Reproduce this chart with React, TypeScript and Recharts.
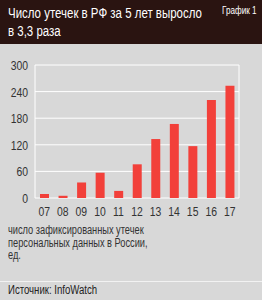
import React from "react";
import { BarChart, Bar, XAxis, YAxis, CartesianGrid } from "recharts";

const years = ["07", "08", "09", "10", "11", "12", "13", "14", "15", "16", "17"];
const leaks = [9, 5, 35, 57, 16, 76, 133, 167, 117, 221, 253];
const yTicks = [0, 60, 120, 180, 240, 300];

const titleLines = ["Число утечек в РФ за 5 лет выросло", "в 3,3 раза"];
const captionLines = ["число зафиксированных утечек", "персональных данных в России,", "ед."];
const sourceText = "Источник: InfoWatch";
const chartLabel = "График 1";

const data = years.map((y, i) => ({ year: y, value: leaks[i] }));

const FONT = "'Liberation Sans', Arial, sans-serif";
const SX = 0.8;

function Narrow({ lines, left, top, size, lineHeight, color, scale = SX }: any) {
  return (
    <div
      style={{
        position: "absolute",
        left,
        top,
        color,
        fontSize: size,
        lineHeight: lineHeight + "px",
        whiteSpace: "nowrap",
        transform: `scaleX(${scale})`,
        transformOrigin: "left top",
      }}
    >
      {lines.map((l: string, i: number) => (
        <div key={i}>{l}</div>
      ))}
    </div>
  );
}

function YTick(props: any) {
  const { x, y, payload } = props;
  return (
    <text
      transform={`translate(${x},${y}) scale(${SX},1)`}
      textAnchor="end"
      dominantBaseline="central"
      fill="#333333"
      fontSize={13}
      fontFamily={FONT}
    >
      {payload.value}
    </text>
  );
}

function XTick(props: any) {
  const { x, y, payload } = props;
  return (
    <text
      transform={`translate(${x},${y}) scale(${SX},1)`}
      textAnchor="middle"
      dominantBaseline="hanging"
      fill="#333333"
      fontSize={13}
      fontFamily={FONT}
    >
      {payload.value}
    </text>
  );
}

export default function App() {
  return (
    <div
      style={{
        position: "fixed",
        top: 0,
        left: 0,
        width: 262,
        height: 300,
        background: "#d8d8d8",
        fontFamily: FONT,
        overflow: "hidden",
      }}
    >
      <div
        style={{
          position: "absolute",
          top: 0,
          left: 0,
          width: 262,
          height: 44,
          background: "#2a1411",
        }}
      />
      <Narrow lines={titleLines} left={8} top={4} size={15.5} lineHeight={18} color="#ffffff" scale={0.74} />
      <Narrow lines={[chartLabel]} left={222} top={3} size={11} lineHeight={14} color="#ffffff" scale={0.74} />
      <div style={{ position: "absolute", top: 50, left: 0 }}>
        <BarChart
          width={262}
          height={180}
          data={data}
          margin={{ top: 15, right: 23, bottom: 12, left: 0 }}
        >
          <CartesianGrid
            stroke="#ffffff"
            strokeWidth={1}
            verticalCoordinatesGenerator={(props: any) => [
              props.offset.left,
              props.offset.left + props.offset.width,
            ]}
          />
          <XAxis
            dataKey="year"
            axisLine={false}
            tickLine={false}
            height={20}
            interval={0}
            tick={<XTick />}
            tickMargin={2}
          />
          <YAxis
            domain={[0, 300]}
            ticks={yTicks}
            axisLine={false}
            tickLine={false}
            width={35}
            interval={0}
            tick={<YTick />}
            tickMargin={1}
          />
          <Bar dataKey="value" fill="#f2403a" barSize={9} isAnimationActive={false} />
        </BarChart>
      </div>
      <Narrow lines={captionLines} left={8} top={224} size={12} lineHeight={12.5} color="#333333" scale={0.77} />
      <div
        style={{
          position: "absolute",
          left: 0,
          top: 281,
          width: 262,
          height: 1,
          background: "#f2f2f2",
        }}
      />
      <Narrow lines={[sourceText]} left={8} top={283} size={12} lineHeight={14} color="#222222" />
    </div>
  );
}
